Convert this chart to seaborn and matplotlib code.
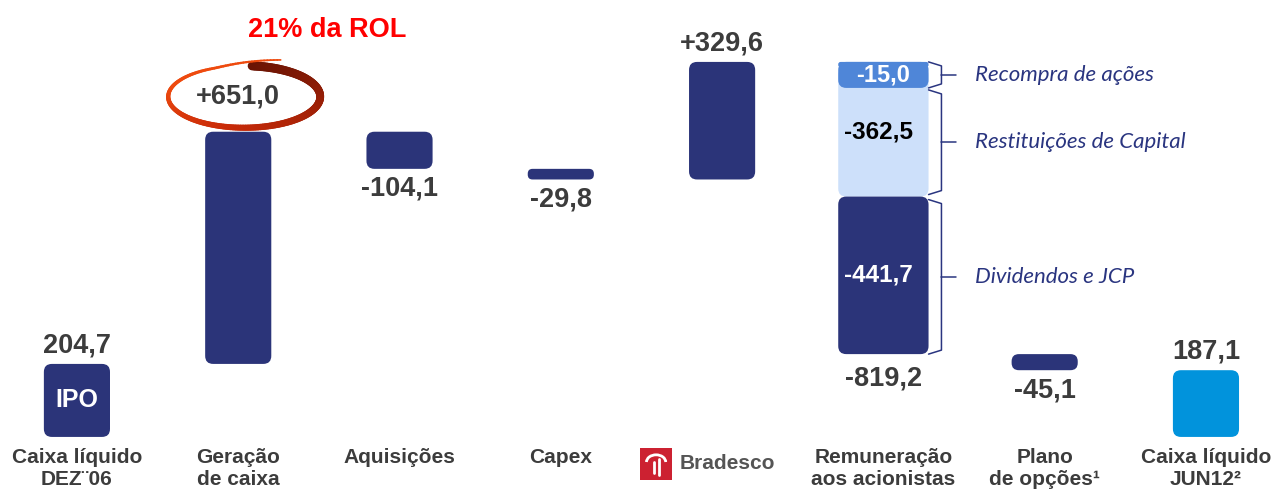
import numpy as np
import pandas as pd
import matplotlib.pyplot as plt
import seaborn as sns
from matplotlib.patches import FancyBboxPatch, Arc, Rectangle
from matplotlib.collections import LineCollection
from matplotlib.colors import to_rgb


# Chart values
categories = ['Caixa líquido\nDEZ¨06', 'Geração\nde caixa', 'Aquisições',
              'Capex', 'Bradesco', 'Remuneração\naos acionistas',
              'Plano\nde opções¹', 'Caixa líquido\nJUN12²']
deltas = [204.7, 651.0, -104.1, -29.8, 329.6, -819.2, -45.1, 187.1]
value_labels = ['204,7', '+651,0', '-104,1', '-29,8', '+329,6', '-819,2',
                '-45,1', '187,1']

stack_values = [-15.0, -362.5, -441.7]
stack_labels = ['-15,0', '-362,5', '-441,7']
stack_names = ['Recompra de ações', 'Restituições de Capital',
               'Dividendos e JCP']
rol_note = '21% da ROL'

# Colours
navy = '#2b3479'
bar_colors = [navy, navy, navy, navy, navy, navy, navy, '#0193dc']
stack_colors = ['#4f86d8', '#cde0fa', navy]
stack_text = ['white', 'black', 'white']
text_gray = '#3c3c3c'
hand_color = '#2a3580'


# Floating bar geometry for the waterfall
level = 0
bottoms, heights = [], []
for i, d in enumerate(deltas):
    if i == 0 or i == len(deltas) - 1:
        bottoms.append(0)
        heights.append(d)
        level = d
    else:
        bottoms.append(level + min(d, 0))
        heights.append(abs(d))
        level += d

df = pd.DataFrame({'categoria': categories, 'altura': heights,
                   'base': bottoms})

sns.set_theme(style='white')
plt.rcParams['font.family'] = ['Liberation Sans', 'DejaVu Sans']

W, H = 1285, 494
fig = plt.figure(figsize=(W / 100, H / 100), dpi=100)
ax = fig.add_axes([0, 0, 1, 1])

sns.barplot(data=df, x='categoria', y='altura', hue='categoria',
            palette=bar_colors, width=0.41, saturation=1, legend=False,
            ax=ax)

xlim = (-0.477, 7.49)
ylim = (-160, 1225)
ax.set_xlim(*xlim)
ax.set_ylim(*ylim)
ax.axis('off')

xupp = (xlim[1] - xlim[0]) / W
yupp = (ylim[1] - ylim[0]) / H
aspect = yupp / xupp


def rounded_bar(x, bottom, height, width, color, r_px=8):
    r = min(r_px * xupp, 0.45 * width, 0.45 * height / aspect)
    patch = FancyBboxPatch((x - width / 2, bottom), width, height,
                           boxstyle=f'round,pad=0,rounding_size={r}',
                           mutation_aspect=aspect, fc=color, ec='none',
                           zorder=2)
    ax.add_patch(patch)


def brace(x0, y_top, y_bot, color=hand_color):
    xv = x0 + 0.08
    xt = x0 + 0.17
    d = 4 * yupp
    ym = (y_top + y_bot) / 2
    ax.plot([x0, xv, xv, x0], [y_top, y_top - d, y_bot + d, y_bot],
            color=color, lw=1.1, zorder=3)
    ax.plot([xv, xt], [ym, ym], color=color, lw=1.1, zorder=3)
    return ym


# Replace seaborn's rectangles by rounded floating bars
rects = list(ax.patches)
stack_width = 0.56
for i, p in enumerate(rects):
    x = p.get_x() + p.get_width() / 2
    w = p.get_width()
    p.remove()
    if i == 5:
        top = df['base'][i] + df['altura'][i]
        y = top
        for j, v in enumerate(stack_values):
            rounded_bar(x, y + v, -v, stack_width, stack_colors[j])
            y += v
        continue
    rounded_bar(x, df['base'][i], df['altura'][i], w, bar_colors[i])

# Value labels
for i, lab in enumerate(value_labels):
    top = df['base'][i] + df['altura'][i]
    bot = df['base'][i]
    if i == 1:
        continue
    if i == 5:
        ax.annotate(lab, (i, bot), xytext=(0, -8), textcoords='offset points',
                    ha='center', va='top', fontsize=19.5, fontweight='bold',
                    color=text_gray)
    elif deltas[i] < 0:
        ax.annotate(lab, (i, bot), xytext=(0, -5), textcoords='offset points',
                    ha='center', va='top', fontsize=19.5, fontweight='bold',
                    color=text_gray)
    else:
        ax.annotate(lab, (i, top), xytext=(0, 4), textcoords='offset points',
                    ha='center', va='bottom', fontsize=19.5,
                    fontweight='bold', color=text_gray)

# IPO tag inside first bar
ax.text(0, df['altura'][0] / 2, 'IPO', ha='center', va='center',
        fontsize=18, fontweight='bold', color='white', zorder=4)

# Geração de caixa: label with hand-drawn ellipse
g_top = df['base'][1] + df['altura'][1]
cx, cy = 1 + 6 * xupp, g_top + 35 * yupp
ax.text(1, cy, value_labels[1], ha='center', va='center', fontsize=19.5,
        fontweight='bold', color=text_gray, zorder=4)
a_px, b_px = 76, 31
n = 200
sweep = np.linspace(0, 376, n + 1)
ang = np.deg2rad(84 - sweep)
grow = 1 + 0.28 * np.clip((sweep - 330) / 46, 0, 1) ** 1.5
ex = cx + a_px * xupp * grow * np.cos(ang)
ey = cy + b_px * yupp * grow * np.sin(ang)
pts = np.column_stack([ex, ey]).reshape(-1, 1, 2)
segs = np.concatenate([pts[:-1], pts[1:]], axis=1)
t = sweep[:-1] / 376
c_dark = np.array(to_rgb('#6a1404'))
c_mid = np.array(to_rgb('#c82a08'))
c_light = np.array(to_rgb('#ee4a0e'))
cols = []
for tt in t:
    if tt < 0.5:
        cols.append(c_dark + (c_mid - c_dark) * tt / 0.5)
    else:
        u = min((tt - 0.5) / 0.25, 1)
        cols.append(c_mid + (c_light - c_mid) * u)
lws = 6.5 - 5.3 * t ** 1.2
ax.add_collection(LineCollection(segs, colors=cols, linewidths=lws,
                                 capstyle='round', zorder=3))

ax.text(1.55, 1141, rol_note, ha='center', va='center', fontsize=19.5,
        fontweight='bold', color='#ff0000')

# Remuneração stack: segment labels and braces
r_top = df['base'][5] + df['altura'][5]
box_h = 26 * yupp
ax.add_patch(FancyBboxPatch((5 - stack_width / 2, r_top - box_h),
                            stack_width, box_h,
                            boxstyle=f'round,pad=0,rounding_size={8 * xupp}',
                            mutation_aspect=aspect, fc=stack_colors[0],
                            ec='none', zorder=3))
ax.text(5, r_top - box_h / 2, stack_labels[0], ha='center', va='center',
        fontsize=17, fontweight='bold', color='white', zorder=4)

y = r_top
seg_bounds = []
for v in stack_values:
    seg_bounds.append((y, y + v))
    y += v
for j in (1, 2):
    s_top, s_bot = seg_bounds[j]
    ax.text(5 - 0.03, (s_top + s_bot) / 2, stack_labels[j], ha='center',
            va='center', fontsize=17.5, fontweight='bold',
            color=stack_text[j], zorder=4)

x_edge = 5 + stack_width / 2
brace_spans = [(r_top, r_top - box_h),
               (r_top - box_h - 2 * yupp, seg_bounds[1][1] + 2 * yupp),
               (seg_bounds[2][0] - 3 * yupp, seg_bounds[2][1])]
for name, (yt, yb) in zip(stack_names, brace_spans):
    ym = brace(x_edge, yt, yb)
    ax.text(5.57, ym, name, ha='left', va='center', fontsize=16,
            fontstyle='italic', family=['Lato', 'DejaVu Sans'],
            color=hand_color)

# Category labels along the bottom
for i, cat in enumerate(categories):
    if cat == 'Bradesco':
        continue
    ax.text(i, -30, cat, ha='center', va='top', fontsize=15,
            fontweight='bold', color=text_gray, linespacing=1.22)

# Bradesco logo in place of the category label
sq_x0 = 4 - 82 * xupp
sq_w = 32 * xupp
sq_h = 32 * yupp
sq_y0 = -30 - sq_h
ax.add_patch(Rectangle((sq_x0, sq_y0), sq_w, sq_h, fc='#cc2131', ec='none'))
ax.add_patch(Arc((sq_x0 + sq_w / 2, sq_y0 + sq_h * 0.55), sq_w * 0.6,
                 sq_h * 0.45, theta1=0, theta2=180, color='white', lw=2))
ax.plot([sq_x0 + sq_w * 0.42, sq_x0 + sq_w * 0.42],
        [sq_y0 + sq_h * 0.2, sq_y0 + sq_h * 0.55], color='white', lw=2)
ax.plot([sq_x0 + sq_w * 0.58, sq_x0 + sq_w * 0.58],
        [sq_y0 + sq_h * 0.15, sq_y0 + sq_h * 0.65], color='white', lw=2)
ax.text(sq_x0 + sq_w + 8 * xupp, sq_y0 + sq_h / 2, 'Bradesco', ha='left',
        va='center', fontsize=15, fontweight='bold', color='#555555')

fig.savefig('out.png', dpi=100)
